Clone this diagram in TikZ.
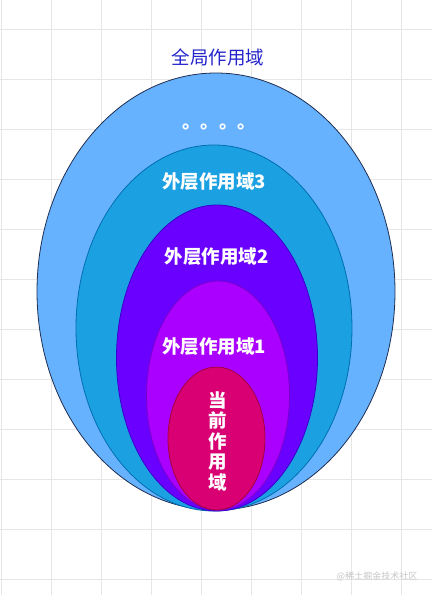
\documentclass[tikz,border=0pt]{standalone}
\usepackage{fontspec}
\setmainfont{Noto Sans CJK SC}
\usetikzlibrary{shapes.geometric}
\definecolor{fill0}{HTML}{66B2FF}
\definecolor{line0}{HTML}{1E2D50}
\definecolor{fill3}{HTML}{1BA1E2}
\definecolor{line3}{HTML}{006EAF}
\definecolor{fill2}{HTML}{6A00FF}
\definecolor{line2}{HTML}{3700CC}
\definecolor{fill1}{HTML}{AA00FF}
\definecolor{line1}{HTML}{7700CC}
\definecolor{fillc}{HTML}{D80073}
\definecolor{linec}{HTML}{A50040}
\definecolor{titleblue}{RGB}{36,36,204}
\definecolor{gridgray}{RGB}{230,230,230}
\begin{document}
\begin{tikzpicture}[x=1pt,y=-1pt]
			\tikzstyle{SC}=[ellipse,draw,line width=0.8pt,inner sep=0pt]
			\tikzstyle{LB}=[text=white,inner sep=0pt,font=\bfseries\fontsize{18.5}{20}\selectfont]
			\useasboundingbox (0,0) rectangle (432,595);
			\fill[white] (0,0) rectangle (432,595);
			% grid
			\foreach \x in {1,51,...,401} \draw[gridgray,line width=0.8pt] (\x,0) -- (\x,595);
			\foreach \y in {29,79,...,579} \draw[gridgray,line width=0.8pt] (0,\y) -- (432,\y);
			
			\begin{scope}
			\node[SC,fill=fill0,draw=line0,minimum width=358pt,minimum height=437pt] (s-0) at (216,291.5) {};
			\node[SC,fill=fill3,draw=line3,minimum width=276pt,minimum height=366pt] (s-3) at (214,328)   {};
			\node[SC,fill=fill2,draw=line2,minimum width=201pt,minimum height=306pt] (s-2) at (217,358)   {};
			\node[SC,fill=fill1,draw=line1,minimum width=143pt,minimum height=229pt] (s-1) at (218,395.5) {};
			\node[SC,fill=fillc,draw=linec,minimum width=97pt,minimum height=143pt]  (s-c) at (216.5,438.5) {};
			\end{scope}
			
			\node[inner sep=0pt,text=titleblue,font=\fontsize{18.5}{20}\selectfont] (t-0) at (218,57) {全局作用域};
			\node[LB,anchor=base west] (t-dots) at (182,128) {。。。。};
			\node[LB] (t-3) at (214,182) {外层作用域3};
			\node[LB] (t-2) at (216.5,257) {外层作用域2};
			\node[LB] (t-1) at (214,347) {外层作用域1};
			\node[LB,align=center,font=\bfseries\fontsize{18.5}{20.5}\selectfont] (t-c) at (218,441) {当\\前\\作\\用\\域};
			\node[inner sep=0pt,text=gray!45,font=\fontsize{9}{10}\selectfont] (t-w) at (377,576) {@稀土掘金技术社区};
		\end{tikzpicture}
\end{document}
